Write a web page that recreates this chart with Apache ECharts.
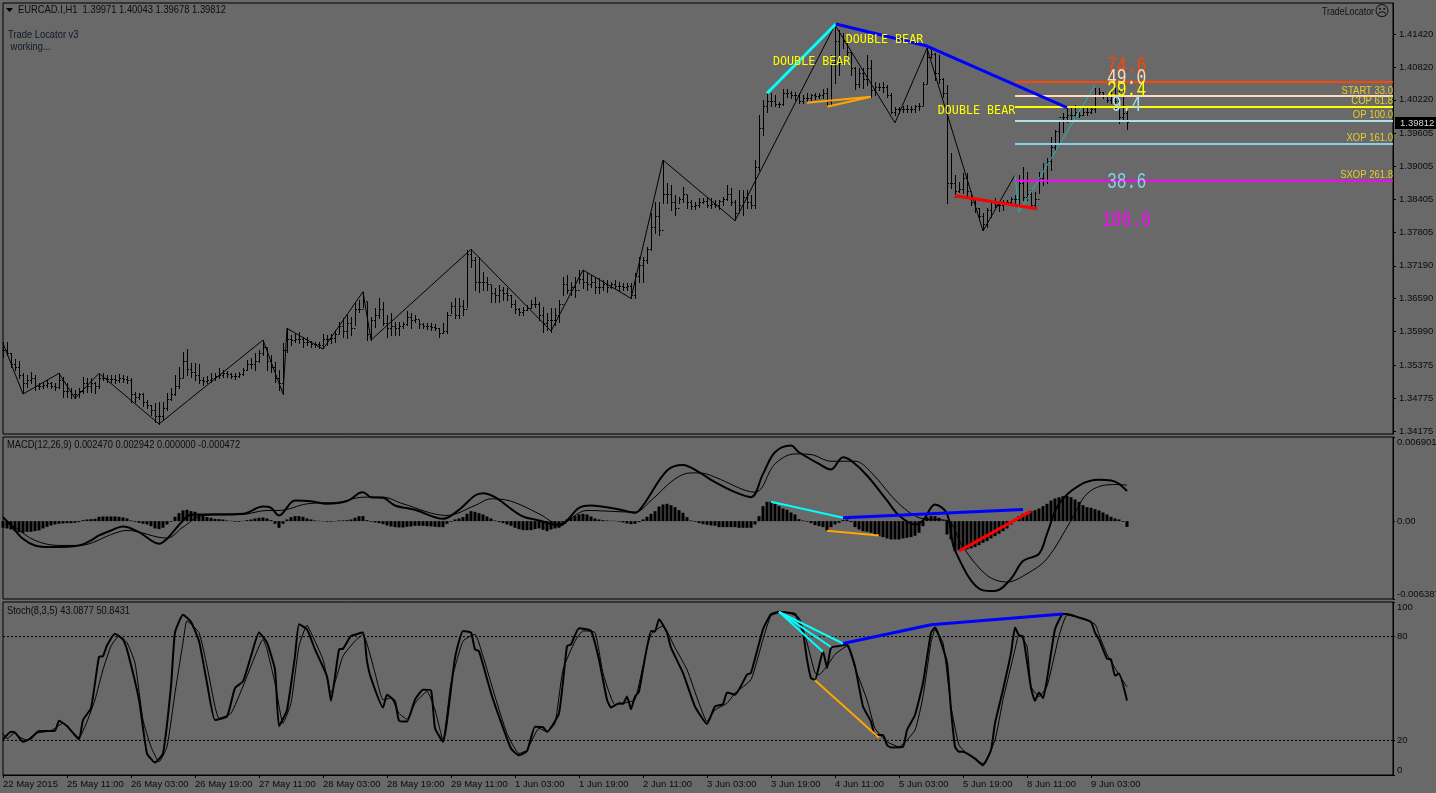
<!DOCTYPE html>
<html><head><meta charset="utf-8"><title>EURCAD.I,H1</title>
<style>html,body{margin:0;padding:0;background:#696969}#c{width:1436px;height:793px}</style>
<script src="https://cdn.jsdelivr.net/npm/echarts@6/dist/echarts.min.js"></script></head>
<body><div id="c"></div><script>
// prices are in points (1e-5), oscillator values in 1e-6
const highs=[135805,135805,135592,135483,135458,135227,135197,135258,135197,135057,
135075,135106,135075,135057,135227,135166,135045,134953,134923,134953,
135166,135136,135136,135075,135227,135227,135197,135197,135197,135215,
135197,135178,135136,134892,134874,134862,134740,134649,134679,134710,
134710,134862,134953,135197,135349,135622,135665,135410,135410,135397,
135166,135178,135227,135239,135318,135288,135276,135239,135227,135258,
135318,135470,135501,135592,135653,135835,135683,135561,135440,135288,
135774,136048,135927,135957,135987,135896,135896,135823,135805,135805,
135945,135927,135945,136018,136170,136231,136292,136261,136535,136565,
136717,136535,136261,136413,136596,136535,136292,136322,136170,136170,
136170,136371,136322,136292,136200,136152,136140,136140,136127,136048,
136140,136352,136535,136596,136596,136565,137478,137490,137356,137356,
137082,136991,136839,136778,136839,136809,136778,136657,136565,136413,
136444,136474,136565,136626,136535,136444,136322,136413,136413,136565,
136991,137022,136900,136991,137113,137113,137052,137022,136991,136961,
136931,136931,136900,136931,136900,136870,136870,136870,137052,137356,
137356,137539,138147,138360,138360,139120,138694,138664,138481,138451,
138634,138481,138390,138360,138421,138421,138451,138421,138390,138390,
138451,138664,138603,138390,138573,138573,138573,138481,139120,139941,
140215,140337,140337,140306,140185,140410,140410,140385,140367,140337,
140306,140349,140325,140337,140349,140410,140428,141036,141584,141493,
141432,141249,141097,140823,140793,140793,141036,140945,140550,140519,
140550,140489,140349,140093,140093,140106,140124,140106,140124,140154,
140550,141158,141158,141067,141036,140610,140489,139242,138847,138725,
138877,138877,138481,138390,138238,138147,138238,138390,138421,138360,
138390,138390,138451,138481,138847,138999,138907,138573,138542,138907,
139059,139150,139546,139668,139820,139972,140093,140063,140124,140002,
140063,140093,140063,140428,140428,140367,140276,140398,140428,140398,
140428,140043];
const lows=[135531,135561,135349,135288,135136,134862,134984,135045,134923,134935,
134953,134984,134953,134923,134953,134801,134789,134771,134771,134801,
134862,134892,134892,134874,134953,135106,135075,135075,135057,135075,
135075,135057,134710,134710,134752,134631,134588,134467,134345,134303,
134375,134558,134740,134832,134953,135166,135197,135166,135106,135045,
135014,135045,135075,135106,135136,135166,135166,135136,135118,135166,
135197,135288,135318,135288,135440,135561,135288,135258,135075,134923,
134850,135622,135744,135805,135774,135713,135744,135713,135701,135683,
135683,135744,135787,135805,135957,135896,135866,135927,136109,136352,
136444,135835,135835,136079,136231,136109,135884,135927,135927,135927,
136048,136109,136048,136170,136048,136048,136030,136018,136018,135896,
135957,135957,136322,136231,136231,136292,136444,137174,136748,136717,
136748,136748,136535,136535,136535,136565,136565,136444,136322,136292,
136292,136383,136413,136444,136200,135987,136018,135987,136109,136170,
136657,136687,136657,136626,136870,136778,136748,136809,136687,136687,
136748,136717,136778,136778,136748,136748,136748,136596,136596,136900,
136900,137234,137478,137782,137752,138329,138329,138208,138116,138329,
138360,138238,138220,138220,138269,138329,138269,138238,138256,138220,
138299,138390,138299,138025,138208,138116,138238,138238,138238,138938,
139576,140002,140106,140106,140081,140124,140276,140246,140215,140166,
140154,140203,140215,140227,140246,140246,140093,140124,140519,140671,
141158,141006,140671,140410,140458,140428,140489,140276,140306,140398,
140367,140276,139972,139941,139972,140002,140002,140002,140002,140033,
140124,140519,140975,140580,140519,140276,138329,138603,138451,138542,
138512,138451,138299,138177,138025,137842,137904,138086,138269,138195,
138208,138329,138299,138317,138317,138390,138390,138238,138238,138512,
138664,138694,138938,139303,139425,139637,139820,139850,139881,139911,
139941,139941,139972,140002,140306,140246,140185,140154,140063,139789,
139850,139678];
const closes=[135650,135600,135400,135350,135200,135050,135100,135150,135000,135000,
135010,135050,135000,134980,135100,134900,134900,134850,134850,134900,
135050,135000,135050,135000,135150,135150,135120,135130,135100,135150,
135130,135100,134850,134800,134850,134700,134650,134550,134450,134450,
134600,134750,134850,135000,135150,135450,135300,135250,135200,135100,
135080,135100,135150,135170,135200,135230,135220,135180,135170,135210,
135280,135400,135400,135450,135600,135700,135450,135350,135150,135050,
135650,135850,135830,135850,135850,135800,135800,135760,135760,135740,
135850,135850,135880,135950,136100,136000,136150,136050,136400,136400,
136550,135950,136200,136300,136400,136150,136050,136100,136050,136100,
136120,136250,136200,136220,136120,136100,136100,136080,136050,135960,
136000,136300,136450,136300,136450,136400,137400,137300,136900,136900,
136900,136850,136700,136650,136750,136700,136650,136500,136400,136350,
136380,136420,136500,136500,136300,136150,136200,136200,136300,136500,
136850,136750,136800,136750,136950,136900,136850,136900,136800,136800,
136850,136800,136850,136820,136820,136800,136820,136650,137000,137200,
137300,137500,137900,138100,137850,138500,138500,138350,138250,138400,
138500,138350,138280,138300,138360,138380,138300,138320,138300,138380,
138400,138500,138350,138150,138300,138450,138350,138300,139000,139700,
140100,140200,140200,140150,140150,140350,140350,140300,140300,140200,
140250,140250,140300,140280,140300,140350,140200,140900,141300,140900,
141300,141100,140800,140500,140700,140600,140800,140400,140450,140450,
140450,140300,140000,140050,140050,140050,140050,140060,140100,140100,
140500,141000,141050,140700,140600,140350,138700,138700,138550,138600,
138800,138550,138350,138250,138100,137950,138200,138350,138300,138300,
138350,138350,138400,138400,138700,138450,138500,138300,138400,138800,
138750,139100,139350,139650,139900,139900,139950,139950,140000,139950,
140000,140000,140050,140300,140370,140290,140220,140300,140200,139900,
139971,139812];
const zigzag=[[0,135775],[5,134850],[14,135227],[18,134771],[24,135227],[39,134303],[65,135835],[70,134850],[71,136048],[80,135670],[90,136717],[92,135835],[117,137490],[137,136000],[145,137113],[157,136596],[165,139120],[183,138013],[208,141584],[223,139800],[231,141158],[245,137825],[253,138847]];
const tealLeg=[[253,138847],[254,138165],[273,140488]];
const cyanLeg=[[191,140338],[208.2,141602]];
const blueLeg=[[208.2,141602],[231,141201],[266,140075]];
const redLeg=[[238,138469],[258.5,138232]];
const orangeA=[[201,140166],[217,140276]];
const orangeB=[[206,140093],[217,140276]];
const levelStart=253, levelEnd=347.5;
const levels=[[140544,'#ff4500'],[140288,'#ffdab9'],[140088,'#ffff00'],[139832,'#b0e0e6'],[139412,'#87ceeb'],[138743,'#ff00ff']];
const levelNames=[['START 33.0',140385],['COP 61.8',140192],['OP 100.0',139936],['XOP 161.0',139517],['SXOP 261.8',138841]];
const bigNumbers=[['74.6',140840,'#ff4500'],['49.0',140608,'#ffdab9'],['29.4',140389,'#ffff00'],['9.4',140128,'#b0e0e6'],['38.6',138720,'#87ceeb'],['106.6',138026,'#ff00ff']];
const doubleBear=[[192.5,140918],[210.7,141310],[233.7,140015]];
const priceTicks=[1.34175,1.34775,1.35375,1.35990,1.36590,1.37190,1.37805,1.38405,1.39005,1.39605,1.40220,1.40820,1.41420];
const timeTicks=[0,16,32,48,64,80,96,112,128,144,160,176,192,208,224,240,256,272];
const timeLabels=['22 May 2015','25 May 11:00','26 May 03:00','26 May 19:00','27 May 11:00','28 May 03:00','28 May 19:00','29 May 11:00','1 Jun 03:00','1 Jun 19:00','2 Jun 11:00','3 Jun 03:00','3 Jun 19:00','4 Jun 11:00','5 Jun 03:00','5 Jun 19:00','8 Jun 11:00','9 Jun 03:00'];
const osma=[-546,-601,-683,-819,-901,-956,-874,-874,-819,-764,-601,-464,-355,-273,-218,-191,-164,-164,-137,-82,
82,137,164,191,355,382,382,382,382,355,300,218,55,-55,-137,-218,-273,-410,-601,-655,
-546,-273,-55,355,655,874,928,819,764,601,437,328,273,191,164,137,55,27,-55,-55,
27,82,137,218,273,300,218,82,-218,-546,-218,137,328,410,410,355,218,137,55,27,
-27,-55,-55,-27,55,55,82,137,273,410,410,82,-55,-109,-164,-246,-355,-437,-491,-519,
-519,-464,-437,-382,-382,-382,-410,-437,-464,-491,-491,-218,-55,137,218,328,601,819,764,655,
546,382,218,55,-82,-164,-273,-382,-546,-655,-737,-737,-737,-655,-601,-710,-819,-683,-601,-546,
-137,137,328,410,546,601,546,382,218,137,82,55,27,27,-55,-109,-191,-246,-218,-82,
137,355,601,819,1201,1365,1420,1310,1147,901,683,328,55,-55,-164,-246,-300,-355,-382,-491,
-491,-491,-491,-491,-546,-546,-546,-546,-273,410,1229,1583,1583,1420,1229,1037,928,710,546,164,
55,-55,-164,-328,-410,-491,-764,-491,-273,-137,82,137,-82,-491,-683,-819,-874,-956,-1092,-1229,
-1310,-1420,-1502,-1502,-1502,-1420,-1365,-1310,-1201,-956,-410,328,410,410,273,55,-1092,-1502,-2457,-2402,
-2321,-2321,-2239,-2129,-1966,-1775,-1638,-1420,-1229,-1037,-819,-601,-273,137,410,601,737,819,901,1037,
1229,1420,1693,1856,1966,2048,2075,1966,1775,1583,1310,1147,1092,983,874,710,546,355,218,137,
-55,-472];
const macdLine=[[0,328],[2,-355],[5,-1447],[8,-1993],[12,-2129],[19,-1993],[22,-1583],[24,-1174],[27,-764],[30,-437],[34,-901],[39,-1856],[41,-1447],[45,55],[47,519],[60,601],[65,1201],[67,1092],[69,464],[73,1693],[77,1638],[81,1420],[86,1638],[89,2293],[90,2375],[92,1966],[95,1911],[98,1283],[103,928],[110,191],[114,928],[118,2102],[120,2293],[123,1966],[127,1010],[130,382],[134,55],[139,-355],[144,1092],[147,1283],[154,956],[158,683],[160,1283],[166,4150],[170,4614],[174,4013],[178,3194],[183,2375],[187,1966],[190,3877],[193,5651],[197,6197],[199,5651],[204,4696],[207,4232],[210,5242],[212,4969],[216,3740],[221,1693],[224,464],[228,-273],[230,55],[233,1365],[236,601],[238,-2402],[245,-5678],[248,-5733],[252,-4723],[255,-3276],[259,-2675],[261,-1037],[264,1420],[269,2921],[274,3385],[277,3331],[279,3058],[281,2470]];
const macdSignal=[[0,273],[3,-491],[8,-1583],[14,-1993],[19,-1993],[28,-983],[31,-764],[41,-1392],[45,-491],[50,464],[60,546],[66,874],[69,874],[76,1420],[84,1556],[90,1966],[95,1966],[100,1420],[111,464],[118,1283],[122,1829],[127,1638],[134,601],[139,-218],[146,874],[158,737],[162,1693],[168,3467],[172,3959],[175,3931],[178,3604],[188,2375],[193,4696],[198,5515],[202,5460],[207,4914],[213,4914],[217,4013],[224,1420],[230,191],[236,55],[240,-2129],[246,-4450],[251,-4996],[256,-4313],[261,-3085],[267,55],[271,2239],[276,2976],[279,3003],[281,2942]];
const macdCyan=[[192,1583],[210,273]];
const macdBlue=[[210,273],[255,955]];
const macdOrange=[[206,-792],[219,-1174]];
const macdRed=[[239,-2457],[257,819]];
const macdTicks=[-0.006387,0,0.006901];
const stochMain=[[0,20.6],[2,25],[3,24.6],[5,19.2],[7,21.2],[9,25.4],[13,25.6],[14,31.4],[16,28.3],[19,20.6],[20,31.8],[22,38.6],[24,68.3],[25,68.7],[26,74.9],[28,81.7],[30,78.4],[31,72.6],[34,43.5],[36,12.4],[38,7.2],[40,12.4],[42,51.2],[43,82.3],[45,92.6],[47,88.5],[49,77.4],[51,53.2],[53,31.8],[56,33.8],[58,50.3],[60,54.1],[62,68.7],[64,82.3],[66,76.5],[68,60.9],[69,28.3],[71,37.6],[73,68.7],[74,87.1],[76,84.2],[78,72.6],[81,57],[82,42.9],[84,72.6],[85,73],[87,80.3],[90,82.3],[91,65.8],[92,56],[95,39],[96,46.4],[98,42.5],[99,31.4],[101,30.9],[103,43.5],[105,49.3],[107,48.9],[108,27],[110,19.2],[113,67.7],[115,83.3],[117,82.3],[118,72.6],[119,71.6],[122,47.4],[124,33.8],[127,15.3],[129,11.4],[131,13.8],[133,27.9],[135,27.6],[136,25],[139,35.7],[141,74.5],[142,75.5],[144,84.8],[147,83.3],[149,66.8],[151,43.5],[152,39],[154,41.5],[155,41.1],[156,45.4],[157,38],[158,45.4],[159,48.3],[162,83.3],[163,82.9],[164,90.1],[166,82.3],[167,73.6],[170,59],[173,39.6],[176,29.5],[178,39.6],[180,41],[181,47.7],[183,46.4],[186,58],[187,59],[190,84.2],[192,93],[194,94.3],[198,93],[200,82.3],[201,66.8],[202,56],[203,55.1],[205,71.6],[206,61.9],[207,73.6],[209,74.5],[211,75.5],[213,62.9],[215,39.6],[217,30.9],[218,23.1],[220,23.1],[221,17.3],[222,15.9],[225,16.3],[226,26],[228,34.7],[230,53.2],[232,82.3],[233,85.2],[234,80.3],[236,64.8],[237,37.6],[238,16.3],[239,13.4],[240,13.4],[243,9.5],[245,5.6],[247,14.4],[248,29.9],[250,49.3],[252,70.6],[253,85.2],[254,80.7],[255,80.3],[257,50.3],[258,42.9],[259,47.7],[260,44.4],[261,55.1],[263,84.2],[265,93],[266,93],[269,91],[272,88.5],[273,82.3],[274,78.4],[276,67.2],[277,66.8],[278,57.4],[279,58.6],[281,43.09]];
const stochSignal=[[0,24],[1,21],[3,24.4],[4,22.1],[6,20.2],[8,24],[12,25.6],[15,29.9],[16,27.9],[19,21.7],[21,30.9],[23,43.5],[25,60.9],[27,74.5],[29,80.3],[31,76.5],[33,64.8],[35,31.8],[37,16.3],[39,7.6],[41,16.3],[43,47.4],[45,76.5],[46,89.1],[49,82.3],[51,62.9],[53,39.6],[54,32.8],[57,35.7],[60,51.2],[62,62.9],[65,78.4],[66,72.6],[68,53.2],[70,29.9],[72,41.5],[74,74.5],[76,86.6],[77,82.3],[80,66.8],[82,47.4],[85,68.7],[88,77.4],[90,81.3],[93,59],[95,43.5],[97,44.4],[99,35.7],[101,32.2],[103,41.5],[106,48.3],[108,37.6],[110,20.2],[112,53.2],[115,77.4],[118,81.3],[120,68.7],[123,45.4],[126,24],[129,12.4],[131,14.4],[134,27],[136,25],[138,29.9],[140,60.9],[143,77.4],[145,83.3],[148,82.3],[150,59],[153,40.6],[156,41.9],[158,43.5],[160,62.9],[162,81.3],[165,86.2],[168,73.6],[171,60.9],[174,41.5],[176,30.9],[178,37.6],[181,41.5],[183,47.4],[187,55.1],[190,78.4],[192,92],[195,94.3],[199,91],[201,76.5],[203,59],[204,58],[206,62.9],[208,69.7],[211,74.5],[213,61.9],[216,43.5],[218,27],[221,19.2],[224,16.3],[228,26],[230,45.4],[232,76.5],[233,83.8],[235,76.5],[237,39.6],[239,17.3],[241,12.4],[245,6.6],[248,20.2],[250,43.5],[253,72.6],[254,81.3],[256,74.5],[257,51.2],[259,45.4],[261,51.2],[264,80.3],[266,92.4],[269,91],[273,87.1],[274,81.3],[276,69.7],[279,58],[281,50.84]];
const stochCyan=[[[194,94.3],[210,76]],[[194,94.3],[207,74]],[[194,94.3],[205,71.2]]];
const stochBlue=[[210,76],[232,86.8],[265,93]];
const stochOrange=[[203,54.7],[219,21.5]];
const stochLevels=[80,20];
const stochTicks=[0,20,80,100];

const MONO='"DejaVu Sans Mono","Liberation Mono",monospace';
const BIG='"Liberation Mono",monospace';
const UI='"Liberation Sans",sans-serif';
const INK='#0c0c0c';
const LEFT=3, RIGHT=43, XMAX=347.5;
const price=p=>p/1e5, micro=v=>v/1e6;

const bars=highs.map((h,i)=>[i,closes[i-1]??closes[0],h,lows[i],closes[i]].map((v,k)=>k?price(v):v));
const toPrice=a=>a.map(([i,p])=>[i,price(p)]);
const toMicro=a=>a.map(([i,v])=>[i,micro(v)]);

function line(data,color,width,g,extra){
  return Object.assign({type:'line',data,xAxisIndex:g,yAxisIndex:g,showSymbol:false,symbol:'none',silent:true,
    lineStyle:{color,width,join:'round'},itemStyle:{color},emphasis:{disabled:true},animation:false,z:4},extra||{});
}
function renderBar(params,api){
  const i=api.value(0);
  const px=v=>api.coord([i,v]);
  const x=Math.round(px(api.value(2))[0])+0.5;
  const yo=Math.round(px(api.value(1))[1])+0.5, yh=Math.round(px(api.value(2))[1]), yl=Math.round(px(api.value(3))[1])+1, yc=Math.round(px(api.value(4))[1])+0.5;
  const s={stroke:'#000',lineWidth:1};
  return {type:'group',children:[
    {type:'line',shape:{x1:x,y1:yh,x2:x,y2:yl},style:s},
    {type:'line',shape:{x1:x-1.5,y1:yo,x2:x,y2:yo},style:s},
    {type:'line',shape:{x1:x,y1:yc,x2:x+1.5,y2:yc},style:s}]};
}
// Text marks placed through the axes' scale
const notes=[];
doubleBear.forEach(([i,p])=>notes.push({t:'DOUBLE BEAR',i,p:price(p),fill:'#ffff00',font:'11.7px '+MONO,align:'left',sy:1}));
levelNames.forEach(([t,p])=>notes.push({t,i:347.5,p:price(p),fill:'#e8cf2a',font:'9.5px '+UI,align:'right',sy:1.15}));
bigNumbers.forEach(([t,p,c])=>notes.push({t,i:280.9,p:price(p),fill:c,font:'16.4px '+BIG,align:'center',sy:1.35}));
const lastClose=closes[closes.length-1];

const series=[];
series.push({type:'custom',name:'EURCAD.I,H1',xAxisIndex:0,yAxisIndex:0,data:bars,renderItem:renderBar,encode:{x:0,y:[1,2,3,4]},silent:true,z:2,animation:false});
series.push(line(toPrice(zigzag),'#000',1,0));
series.push(line(toPrice(tealLeg),'#1fb5b5',1,0));
levels.forEach(([p,c])=>series.push(line([[levelStart,price(p)],[levelEnd,price(p)]],c,2,0,{z:5})));
series.push(line(toPrice(cyanLeg),'#00ffff',3,0,{z:6}));
series.push(line(toPrice(blueLeg),'#0000ff',3,0,{z:6}));
series.push(line(toPrice(redLeg),'#ff0000',3,0,{z:6}));
series.push(line(toPrice(orangeA),'#ffa500',2,0,{z:6}));
series.push(line(toPrice(orangeB),'#ffa500',2,0,{z:6}));
series.push({type:'custom',xAxisIndex:0,yAxisIndex:0,data:notes.map((n,k)=>[n.i,n.p,k]),silent:true,z:8,clip:false,animation:false,
  renderItem(params,api){const n=notes[api.value(2)];const c=api.coord([api.value(0),api.value(1)]);
    return {type:'text',x:c[0],y:c[1],scaleY:n.sy,style:{text:n.t,fill:n.fill,font:n.font,align:n.align,verticalAlign:'middle'}};}});
series.push({type:'custom',xAxisIndex:0,yAxisIndex:0,data:[[348,price(lastClose)]],silent:true,z:8,clip:false,animation:false,
  renderItem(params,api){const c=api.coord([api.value(0),api.value(1)]);
    return {type:'group',children:[
      {type:'rect',shape:{x:Math.round(c[0]),y:Math.round(c[1])-5,width:41,height:12},style:{fill:'#000'}},
      {type:'text',x:Math.round(c[0])+5,y:Math.round(c[1])+1,style:{text:api.value(1).toFixed(5),fill:'#d8d8d8',font:'9.5px '+UI,verticalAlign:'middle'}}]};}});
// MACD
series.push({type:'bar',xAxisIndex:1,yAxisIndex:1,data:osma.map((v,i)=>[i,micro(v)]),barWidth:3,itemStyle:{color:'#000'},silent:true,z:2,animation:false});
series.push(line(toMicro(macdSignal),'#000',1,1,{smooth:0.35}));
series.push(line(toMicro(macdLine),'#000',2,1,{smooth:0.35}));
series.push(line(toMicro(macdCyan),'#00ffff',2,1,{z:6}));
series.push(line(toMicro(macdBlue),'#0000ff',3,1,{z:6}));
series.push(line(toMicro(macdOrange),'#ffa500',2,1,{z:6}));
series.push(line(toMicro(macdRed),'#ff0000',3,1,{z:6}));
// Stochastic
stochLevels.forEach(v=>series.push(line([[0,v],[XMAX,v]],'#000',1,2,{lineStyle:{color:'#000',width:1,type:[2,2]},z:1})));
series.push(line(stochSignal,'#000',1,2,{smooth:0.15}));
series.push(line(stochMain,'#000',2,2,{smooth:0.15}));
stochCyan.forEach(d=>series.push(line(d,'#00ffff',2,2,{z:6})));
series.push(line(stochBlue,'#0000ff',3,2,{z:6}));
series.push(line(stochOrange,'#ffa500',2,2,{z:6}));

const grid=(top,bottomY)=>({left:LEFT,right:RIGHT,top,height:bottomY-top,show:true,backgroundColor:'transparent',borderColor:'#000',borderWidth:1,containLabel:false,outerBoundsMode:'none'});
const hiddenX=g=>({type:'value',gridIndex:g,min:0,max:XMAX,show:false,splitLine:{show:false}});
const axisBase={position:'right',axisLine:{show:true,onZero:false,lineStyle:{color:'#000',width:1}},splitLine:{show:false},axisPointer:{show:false}};
const labelBase={color:INK,fontFamily:UI,fontSize:9.5,margin:6,align:'left',showMinLabel:true,showMaxLabel:true,hideOverlap:false};

const option={
  backgroundColor:'#696969',animation:false,tooltip:{show:false},legend:{show:false},
  grid:[grid(3,434),grid(437,599),grid(602,775)],
  xAxis:[hiddenX(0),hiddenX(1),{type:'value',gridIndex:2,min:0,max:XMAX,splitLine:{show:false},
    axisLine:{show:true,onZero:false,lineStyle:{color:'#000'}},
    axisTick:{show:true,length:3,customValues:timeTicks,lineStyle:{color:'#000'}},
    axisLabel:{customValues:timeTicks,color:INK,fontFamily:UI,fontSize:9.5,margin:4,align:'left',showMinLabel:true,showMaxLabel:true,
      formatter:v=>timeLabels[timeTicks.indexOf(v)]||''}}],
  yAxis:[
    Object.assign({type:'value',gridIndex:0,min:price(134120),max:price(141986),axisTick:{show:true,length:3,customValues:priceTicks,lineStyle:{color:'#000'}},
      axisLabel:Object.assign({},labelBase,{customValues:priceTicks,formatter:v=>v.toFixed(5)})},axisBase),
    Object.assign({type:'value',gridIndex:1,min:-0.006387,max:0.006901,axisTick:{show:true,length:2,customValues:macdTicks,lineStyle:{color:'#000'}},
      axisLabel:Object.assign({},labelBase,{margin:4,customValues:macdTicks,verticalAlignMinLabel:'bottom',verticalAlignMaxLabel:'top',formatter:v=>v===0?'0.00':v.toFixed(6)})},axisBase),
    Object.assign({type:'value',gridIndex:2,min:0,max:100,axisTick:{show:true,length:2,customValues:stochTicks,lineStyle:{color:'#000'}},
      axisLabel:Object.assign({},labelBase,{margin:4,customValues:stochTicks,verticalAlignMinLabel:'bottom',verticalAlignMaxLabel:'top',formatter:v=>String(v)})},axisBase)
  ],
  series,
  graphic:[
    {type:'polygon',shape:{points:[[6,8],[13,8],[9.5,12]]},style:{fill:'#000'},silent:true},
    {type:'text',x:18,y:10.5,scaleY:1.15,style:{text:'EURCAD.I,H1  1.39971 1.40043 1.39678 1.39812',fill:INK,font:'9.4px '+UI,verticalAlign:'middle'},silent:true},
    {type:'text',x:8,y:35.5,scaleY:1.15,style:{text:'Trade Locator v3',fill:'#101828',font:'9.4px '+UI,verticalAlign:'middle'},silent:true},
    {type:'text',x:8,y:47.5,scaleY:1.15,style:{text:' working...',fill:'#101828',font:'9.4px '+UI,verticalAlign:'middle'},silent:true},
    {type:'text',x:1322,y:12,scaleY:1.2,style:{text:'TradeLocator',fill:'#111',font:'8.8px '+UI,verticalAlign:'middle'},silent:true},
    {type:'text',x:1382,y:12,style:{text:'\u2639',fill:'#111',font:'15px "DejaVu Sans"',align:'center',verticalAlign:'middle'},silent:true},
    {type:'text',x:7,y:445.5,scaleY:1.15,style:{text:'MACD(12,26,9) 0.002470 0.002942 0.000000 -0.000472',fill:INK,font:'9.3px '+UI,verticalAlign:'middle'},silent:true},
    {type:'text',x:7,y:611,scaleY:1.15,style:{text:'Stoch(8,3,5) 43.0877 50.8431',fill:INK,font:'9.3px '+UI,verticalAlign:'middle'},silent:true}
  ]
};
const chart=echarts.init(document.getElementById('c'));
chart.setOption(option);
</script></body></html>
